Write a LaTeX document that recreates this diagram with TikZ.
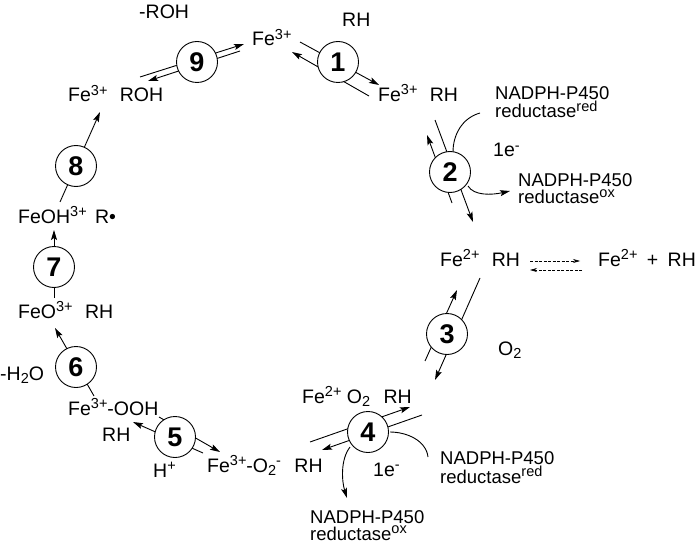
\documentclass[tikz,border=0pt]{standalone}
\usepackage{fontspec}
\setmainfont{Liberation Sans}
\usetikzlibrary{arrows.meta}
\newcommand\sps[1]{\raisebox{6.5pt}{\fontsize{14.5}{14}\selectfont #1}}
\newcommand\sbs[1]{\raisebox{-3.8pt}{\fontsize{14.5}{14}\selectfont #1}}
\begin{document}
\begin{tikzpicture}[x=1pt,y=-1pt,
  lbl/.style={font=\fontsize{19.5}{18}\selectfont, inner sep=0pt, anchor=base west, align=left},
  nad/.style={font=\fontsize{18.5}{17}\selectfont, inner sep=0pt, anchor=base west, align=left},
  num/.style={circle, draw, fill=white, line width=0.9pt, minimum size=41pt, inner sep=0pt, font=\fontsize{27}{28}\selectfont\bfseries},
  ln/.style={line width=0.9pt},
  arr/.style={line width=0.9pt, -{Stealth[length=10pt,width=6pt,inset=2pt]}},
  darr/.style={line width=0.6pt, dash pattern=on 3pt off 1.5pt, -{Stealth[length=7pt,width=4pt]}},
]
\useasboundingbox (0,0) rectangle (700,545);

% ---- species labels ----
\node[lbl] (rohm) at (139,19) {-ROH};
\node[lbl] (fe3) at (252,46) {Fe\sps{3+}};
\node[lbl] (rh1) at (342,27) {RH};
\node[lbl] (fe3rh) at (378,101.5) {Fe\sps{3+}\hspace{7pt} RH};
\node[nad] (nad1) at (495,118) {NADPH-P450\\reductase\sps{red}};
\node[lbl] (e1a) at (493,157) {1e\sps{-}};
\node[nad] (nad2) at (518,204) {NADPH-P450\\reductase\sps{ox}};
\node[lbl] (fe2rh) at (440,266) {Fe\sps{2+}\hspace{7pt} RH};
\node[lbl] (fe2free) at (598,266) {Fe\sps{2+}\hspace{4pt} +\hspace{4pt} RH};
\node[lbl] (o2) at (498,355) {O\sbs{2}};
\node[lbl] (fe2o2) at (302,403) {Fe\sps{2+} O\sbs{2}\hspace{8pt} RH};
\node[lbl] (fe3o2) at (207,472) {Fe\sps{3+}-O\sbs{2}\sps{-}\hspace{8pt} RH};
\node[lbl] (e1b) at (373,476) {1e\sps{-}};
\node[nad] (nad3) at (440,483) {NADPH-P450\\reductase\sps{red}};
\node[nad] (nad4) at (310,540) {NADPH-P450\\reductase\sps{ox}};
\node[lbl] (fe3ooh) at (68,415) {Fe\sps{3+}-OOH};
\node[lbl] (rh5) at (102,441) {RH};
\node[lbl] (hplus) at (153,477) {H\sps{+}};
\node[lbl] (h2o) at (0,380) {-H\sbs{2}O};
\node[lbl] (feo) at (18,318) {FeO\sps{3+}\hspace{7pt} RH};
\node[lbl] (feoh) at (18,223) {FeOH\sps{3+}\hspace{3pt} R•};
\node[lbl] (fe3roh) at (68,102) {Fe\sps{3+}\hspace{7pt} ROH};

% ---- connector end points ----
\coordinate (s1fa) at (300,42);  \coordinate (s1fb) at (379,85);
\coordinate (s1ra) at (369,96);  \coordinate (s1rb) at (292,52);
\coordinate (s2fa) at (435,120); \coordinate (s2fb) at (473,222);
\coordinate (s2ra) at (452,203); \coordinate (s2rb) at (427,135);
\coordinate (s3fa) at (480,278); \coordinate (s3fb) at (435,380);
\coordinate (s3ra) at (425,361); \coordinate (s3rb) at (457,290);
\coordinate (s4fa) at (422,415); \coordinate (s4fb) at (322,450);
\coordinate (s4ra) at (310,442); \coordinate (s4rb) at (410,407);
\coordinate (s5fa) at (203,453); \coordinate (s5fb) at (133,422);
\coordinate (s5ra) at (159,417); \coordinate (s5rb) at (220,452);
\coordinate (s6a) at (94,396);   \coordinate (s6b) at (55,328);
\coordinate (s7a) at (54,298);   \coordinate (s7b) at (54,230);
\coordinate (s8a) at (60,202);   \coordinate (s8b) at (100,112);
\coordinate (s9fa) at (140,77);  \coordinate (s9fb) at (244,44);
\coordinate (s9ra) at (240,51);  \coordinate (s9rb) at (148,81);
\coordinate (c2in) at (480,113); \coordinate (c2mid) at (453,152);
\coordinate (c2out) at (468,186); \coordinate (c2end) at (510,191);
\coordinate (c4in) at (428,457); \coordinate (c4mid) at (390,432);
\coordinate (c4out) at (350,447); \coordinate (c4end) at (347,498);
\coordinate (dfa) at (530,261);  \coordinate (dfb) at (580,261);
\coordinate (dra) at (582,270);  \coordinate (drb) at (530,270);

% ---- connectors ----
\draw[arr] (s1fa) -- (s1fb);  \draw[arr] (s1ra) -- (s1rb);
\draw[arr] (s2fa) -- (s2fb);  \draw[arr] (s2ra) -- (s2rb);
\draw[arr] (s3fa) -- (s3fb);  \draw[arr] (s3ra) -- (s3rb);
\draw[arr] (s4fa) -- (s4fb);  \draw[arr] (s4ra) -- (s4rb);
\draw[arr] (s5fa) -- (s5fb);  \draw[arr] (s5ra) -- (s5rb);
\draw[arr] (s6a) -- (s6b);
\draw[arr] (s7a) -- (s7b);
\draw[arr] (s8a) -- (s8b);
\draw[arr] (s9fa) -- (s9fb);  \draw[arr] (s9ra) -- (s9rb);
\draw[ln] (c2in) .. controls (462,118) and (453,135) .. (c2mid);
\draw[arr] (c2out) .. controls (474,196) and (492,195) .. (c2end);
\draw[ln] (c4in) .. controls (426,440) and (406,432) .. (c4mid);
\draw[arr] (c4out) .. controls (340,460) and (342,482) .. (c4end);
\draw[darr] (dfa) -- (dfb);
\draw[darr] (dra) -- (drb);

% ---- step circles ----
\node[num] (n1) at (338,62) {1};
\node[num] (n2) at (450,172) {2};
\node[num] (n3) at (447,334) {3};
\node[num] (n4) at (368,432) {4};
\node[num] (n5) at (175,437) {5};
\node[num] (n6) at (76,367) {6};
\node[num] (n7) at (54,267) {7};
\node[num] (n8) at (76,166) {8};
\node[num] (n9) at (197,62) {9};
\end{tikzpicture}
\end{document}
